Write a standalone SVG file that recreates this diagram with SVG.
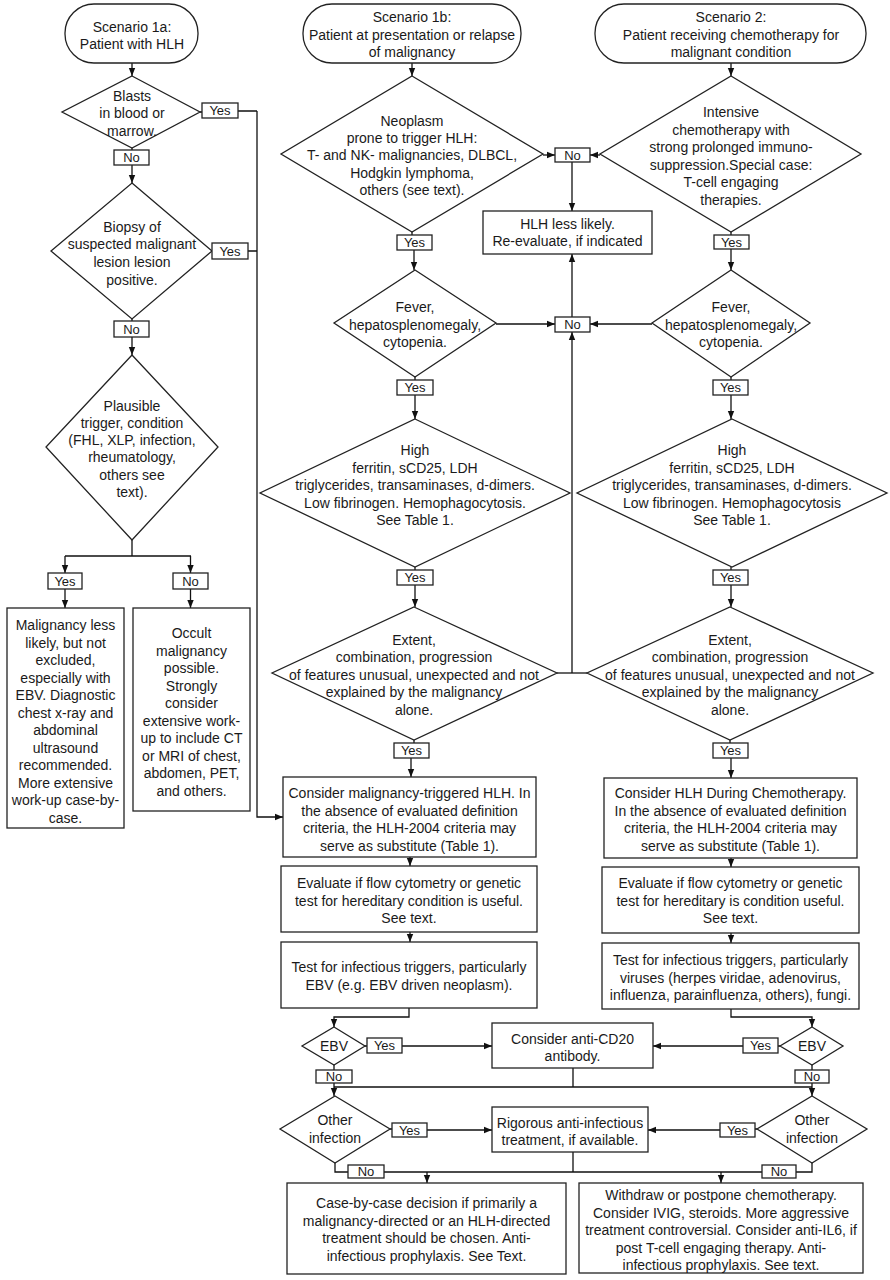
<svg xmlns="http://www.w3.org/2000/svg" width="890" height="1280" viewBox="0 0 890 1280">
<defs>
<marker id="ah" markerUnits="userSpaceOnUse" markerWidth="8" markerHeight="8" refX="8" refY="4" orient="auto">
<path d="M0,0.8 L8,4 L0,7.2 z" fill="#111"/>
</marker>
<style>
.n{fill:#fff;stroke:#222;stroke-width:1.3}
.t{font-family:"Liberation Sans",Arial,sans-serif;font-size:14px;fill:#1a1a1a;text-anchor:middle}
.s{font-size:13px}
.c{fill:none;stroke:#111;stroke-width:1.3}
.a{fill:none;stroke:#111;stroke-width:1.3;marker-end:url(#ah)}
</style>
</defs>
<rect width="890" height="1280" fill="#fff"/>

<g id="connectors">
<path class="a" d="M132,63 V76"/>
<path class="c" d="M200,112 H202 M238,111 H257 M132,148 V150"/>
<path class="a" d="M132,165 V183"/>
<path class="c" d="M212,251 H212 M248,251 H257 M132,319 V321"/>
<path class="a" d="M132,337 V355"/>
<path class="c" d="M132,540 V556 M65,556 H191"/>
<path class="a" d="M65,556 V573"/>
<path class="a" d="M190.5,556 V573"/>
<path class="a" d="M65,589 V608"/>
<path class="a" d="M190.5,589 V608"/>
<path class="a" d="M257,111 V817 H283"/>
<path class="a" d="M412,63 V76"/>
<path class="a" d="M731,63 V76"/>
<path class="a" d="M543,155 H555"/>
<path class="a" d="M600,155 H590"/>
<path class="a" d="M572,162 V211"/>
<path class="c" d="M412,232 V235 M731,232 V235"/>
<path class="a" d="M414,250 V270"/>
<path class="a" d="M731,249 V270"/>
<path class="a" d="M496,324 H555"/>
<path class="a" d="M652,324 H590"/>
<path class="a" d="M572,317 V254"/>
<path class="a" d="M572,673 V332"/>
<path class="c" d="M557,673 H587"/>
<path class="c" d="M415,377 V380 M415,567 V570 M414,740 V743 M731,377 V380 M731,567 V570 M730,740 V743"/>
<path class="a" d="M415,395 V419"/>
<path class="a" d="M415,585 V607"/>
<path class="a" d="M411,758 V777"/>
<path class="a" d="M731,395 V419"/>
<path class="a" d="M731,585 V607"/>
<path class="a" d="M731,758 V778"/>
<path class="a" d="M410,857 V866"/>
<path class="a" d="M410,932 V942"/>
<path class="a" d="M731,858 V867"/>
<path class="a" d="M731,933 V943"/>
<path class="a" d="M409,1008 V1017 H334 V1027"/>
<path class="a" d="M731,1009 V1017 H812 V1027"/>
<path class="c" d="M365,1046 H367 M780,1046 H778"/>
<path class="a" d="M402,1046 H492"/>
<path class="a" d="M743,1046 H653"/>
<path class="c" d="M334,1065 V1070 M812,1065 V1070"/>
<path class="c" d="M334,1087 H812 M573,1068 V1087"/>
<path class="a" d="M334,1083 V1096"/>
<path class="a" d="M812,1083 V1096"/>
<path class="c" d="M390,1129 H392 M757,1129 H755"/>
<path class="a" d="M427,1130 H492"/>
<path class="a" d="M720,1130 H648"/>
<path class="c" d="M335,1163 V1172 H812 V1163 M573,1152 V1172"/>
<path class="a" d="M427,1172 V1183"/>
<path class="a" d="M721,1172 V1183"/>
</g>

<g id="s1a"><rect class="n" x="65" y="4" width="133" height="59" rx="29"/>
<text class="t" x="132" y="32">Scenario 1a:</text><text class="t" x="132" y="49">Patient with HLH</text></g>

<g id="blasts"><polygon class="n" points="132,76 200,112 132,148 62,112"/>
<text class="t" x="132" y="101">Blasts</text><text class="t" x="132" y="118">in blood or</text><text class="t" x="132" y="136">marrow.</text></g>
<g id="blasts_yes"><rect class="n" x="202" y="103" width="36" height="15"/><text class="t s" x="220" y="115">Yes</text></g>
<g id="blasts_no"><rect class="n" x="114" y="150" width="35" height="15"/><text class="t s" x="131.5" y="162">No</text></g>

<g id="biopsy"><polygon class="n" points="132,183 212,251 132,319 51,251"/>
<text class="t" x="132" y="232">Biopsy of</text><text class="t" x="132" y="249">suspected malignant</text><text class="t" x="132" y="267">lesion lesion</text><text class="t" x="132" y="285">positive.</text></g>
<g id="biopsy_yes"><rect class="n" x="212" y="243" width="36" height="16"/><text class="t s" x="230" y="256">Yes</text></g>
<g id="biopsy_no"><rect class="n" x="114" y="321" width="35" height="16"/><text class="t s" x="131.5" y="334">No</text></g>

<g id="plausible"><polygon class="n" points="132,355 218,447 132,540 46,447"/>
<text class="t" x="132" y="411">Plausible</text><text class="t" x="132" y="428">trigger, condition</text><text class="t" x="132" y="445">(FHL, XLP, infection,</text><text class="t" x="132" y="462">rheumatology,</text><text class="t" x="132" y="480">others see</text><text class="t" x="132" y="497">text).</text></g>
<g id="plausible_yes"><rect class="n" x="48" y="573" width="34" height="16"/><text class="t s" x="65" y="586">Yes</text></g>
<g id="plausible_no"><rect class="n" x="173" y="573" width="35" height="16"/><text class="t s" x="190.5" y="586">No</text></g>

<g id="malignancy_less"><rect class="n" x="7" y="608" width="117" height="220"/>
<text class="t" x="65.5" y="630">Malignancy less</text><text class="t" x="65.5" y="647.5">likely, but not</text><text class="t" x="65.5" y="665">excluded,</text><text class="t" x="65.5" y="682.5">especially with</text><text class="t" x="65.5" y="700">EBV. Diagnostic</text><text class="t" x="65.5" y="717.5">chest x-ray and</text><text class="t" x="65.5" y="735">abdominal</text><text class="t" x="65.5" y="752.5">ultrasound</text><text class="t" x="65.5" y="770">recommended.</text><text class="t" x="65.5" y="787.5">More extensive</text><text class="t" x="65.5" y="805">work-up case-by-</text><text class="t" x="65.5" y="822.5">case.</text></g>

<g id="occult"><rect class="n" x="133" y="608" width="117" height="203"/>
<text class="t" x="191.5" y="638">Occult</text><text class="t" x="191.5" y="655.5">malignancy</text><text class="t" x="191.5" y="673">possible.</text><text class="t" x="191.5" y="690.5">Strongly</text><text class="t" x="191.5" y="708">consider</text><text class="t" x="191.5" y="725.5">extensive work-</text><text class="t" x="191.5" y="743">up to include CT</text><text class="t" x="191.5" y="760.5">or MRI of chest,</text><text class="t" x="191.5" y="778">abdomen, PET,</text><text class="t" x="191.5" y="795.5">and others.</text></g>

<g id="s1b"><rect class="n" x="303" y="4" width="218" height="59" rx="29"/>
<text class="t" x="412" y="22">Scenario 1b:</text><text class="t" x="412" y="40">Patient at presentation or relapse</text><text class="t" x="412" y="57">of malignancy</text></g>

<g id="neoplasm"><polygon class="n" points="412,76 543,154 412,232 281,154"/>
<text class="t" x="412" y="126">Neoplasm</text><text class="t" x="412" y="143">prone to trigger HLH:</text><text class="t" x="412" y="160">T- and NK- malignancies, DLBCL,</text><text class="t" x="412" y="178">Hodgkin lymphoma,</text><text class="t" x="412" y="195">others (see text).</text></g>
<g id="neoplasm_yes"><rect class="n" x="397" y="235" width="35" height="15"/><text class="t s" x="414.5" y="247">Yes</text></g>

<g id="fever1"><polygon class="n" points="415,270 496,323 415,377 334,323"/>
<text class="t" x="415" y="312">Fever,</text><text class="t" x="415" y="330">hepatosplenomegaly,</text><text class="t" x="415" y="347">cytopenia.</text></g>
<g id="fever1_yes"><rect class="n" x="397" y="380" width="36" height="15"/><text class="t s" x="415" y="392">Yes</text></g>

<g id="high1"><polygon class="n" points="415,419 570,493 415,567 260,493"/>
<text class="t" x="415" y="455">High</text><text class="t" x="415" y="473">ferritin, sCD25, LDH</text><text class="t" x="415" y="490">triglycerides, transaminases, d-dimers.</text><text class="t" x="415" y="508">Low fibrinogen. Hemophagocytosis.</text><text class="t" x="415" y="525">See Table 1.</text></g>
<g id="high1_yes"><rect class="n" x="397" y="570" width="36" height="15"/><text class="t s" x="415" y="582">Yes</text></g>

<g id="extent1"><polygon class="n" points="414,607 557,673 414,740 272,673"/>
<text class="t" x="414" y="645">Extent,</text><text class="t" x="414" y="662">combination, progression</text><text class="t" x="414" y="680">of features unusual, unexpected and not</text><text class="t" x="414" y="697">explained by the malignancy</text><text class="t" x="414" y="715">alone.</text></g>
<g id="extent1_yes"><rect class="n" x="394" y="743" width="35" height="15"/><text class="t s" x="411.5" y="755">Yes</text></g>

<g id="s2"><rect class="n" x="595" y="4" width="271" height="59" rx="29"/>
<text class="t" x="731" y="22">Scenario 2:</text><text class="t" x="731" y="40">Patient receiving chemotherapy for</text><text class="t" x="731" y="57">malignant condition</text></g>

<g id="intensive"><polygon class="n" points="731,76 861,154 731,232 600,154"/>
<text class="t" x="731" y="117">Intensive</text><text class="t" x="731" y="134.5">chemotherapy with</text><text class="t" x="731" y="152">strong prolonged immuno-</text><text class="t" x="731" y="169.5">suppression.Special case:</text><text class="t" x="731" y="187">T-cell engaging</text><text class="t" x="731" y="204.5">therapies.</text></g>
<g id="intensive_yes"><rect class="n" x="714" y="235" width="35" height="14"/><text class="t s" x="731.5" y="246.5">Yes</text></g>

<g id="fever2"><polygon class="n" points="731,270 810,323 731,377 652,323"/>
<text class="t" x="731" y="312">Fever,</text><text class="t" x="731" y="330">hepatosplenomegaly,</text><text class="t" x="731" y="347">cytopenia.</text></g>
<g id="fever2_yes"><rect class="n" x="713" y="380" width="35" height="15"/><text class="t s" x="730.5" y="392">Yes</text></g>

<g id="high2"><polygon class="n" points="732,419 887,493 732,567 577,493"/>
<text class="t" x="732" y="455">High</text><text class="t" x="732" y="473">ferritin, sCD25, LDH</text><text class="t" x="732" y="490">triglycerides, transaminases, d-dimers.</text><text class="t" x="732" y="508">Low fibrinogen. Hemophagocytosis</text><text class="t" x="732" y="525">See Table 1.</text></g>
<g id="high2_yes"><rect class="n" x="713" y="570" width="35" height="15"/><text class="t s" x="730.5" y="582">Yes</text></g>

<g id="extent2"><polygon class="n" points="730,607 873,673 730,740 587,673"/>
<text class="t" x="730" y="645">Extent,</text><text class="t" x="730" y="662">combination, progression</text><text class="t" x="730" y="680">of features unusual, unexpected and not</text><text class="t" x="730" y="697">explained by the malignancy</text><text class="t" x="730" y="715">alone.</text></g>
<g id="extent2_yes"><rect class="n" x="713" y="743" width="35" height="15"/><text class="t s" x="730.5" y="755">Yes</text></g>

<g id="no_top"><rect class="n" x="555" y="148" width="35" height="14"/><text class="t s" x="572.5" y="159.5">No</text></g>
<g id="hlh_less"><rect class="n" x="483" y="211" width="169" height="43"/>
<text class="t" x="567.5" y="229">HLH less likely.</text><text class="t" x="567.5" y="246">Re-evaluate, if indicated</text></g>
<g id="no_mid"><rect class="n" x="555" y="317" width="35" height="15"/><text class="t s" x="572.5" y="329">No</text></g>

<g id="consider_mal"><rect class="n" x="283" y="777" width="253" height="80"/>
<text class="t" x="409.5" y="798">Consider malignancy-triggered HLH. In</text><text class="t" x="409.5" y="815.5">the absence of evaluated definition</text><text class="t" x="409.5" y="833">criteria, the HLH-2004 criteria may</text><text class="t" x="409.5" y="850.5">serve as substitute (Table 1).</text></g>
<g id="evaluate1"><rect class="n" x="281" y="866" width="256" height="66"/>
<text class="t" x="409" y="888">Evaluate if flow cytometry or genetic</text><text class="t" x="409" y="905.5">test for hereditary condition is useful.</text><text class="t" x="409" y="923">See text.</text></g>
<g id="test1"><rect class="n" x="281" y="942" width="256" height="66"/>
<text class="t" x="409" y="972">Test for infectious triggers, particularly</text><text class="t" x="409" y="990">EBV (e.g. EBV driven neoplasm).</text></g>

<g id="consider_chemo"><rect class="n" x="604" y="778" width="253" height="80"/>
<text class="t" x="730.5" y="798">Consider HLH During Chemotherapy.</text><text class="t" x="730.5" y="815.5">In the absence of evaluated definition</text><text class="t" x="730.5" y="833">criteria, the HLH-2004 criteria may</text><text class="t" x="730.5" y="850.5">serve as substitute (Table 1).</text></g>
<g id="evaluate2"><rect class="n" x="602" y="867" width="257" height="66"/>
<text class="t" x="730.5" y="888">Evaluate if flow cytometry or genetic</text><text class="t" x="730.5" y="905.5">test for hereditary is condition useful.</text><text class="t" x="730.5" y="923">See text.</text></g>
<g id="test2"><rect class="n" x="602" y="943" width="257" height="66"/>
<text class="t" x="730.5" y="965">Test for infectious triggers, particularly</text><text class="t" x="730.5" y="982.5">viruses (herpes viridae, adenovirus,</text><text class="t" x="730.5" y="1000">influenza, parainfluenza, others), fungi.</text></g>

<g id="ebv1"><polygon class="n" points="334,1027 365,1046 334,1065 302,1046"/><text class="t" x="334" y="1051">EBV</text></g>
<g id="ebv1_yes"><rect class="n" x="367" y="1038" width="35" height="15"/><text class="t s" x="384.5" y="1050">Yes</text></g>
<g id="ebv1_no"><rect class="n" x="316" y="1070" width="36" height="13"/><text class="t s" x="334" y="1081">No</text></g>
<g id="anti_cd20"><rect class="n" x="492" y="1023" width="161" height="45"/>
<text class="t" x="572.5" y="1044">Consider anti-CD20</text><text class="t" x="572.5" y="1061">antibody.</text></g>
<g id="ebv2"><polygon class="n" points="812,1027 843,1046 812,1065 780,1046"/><text class="t" x="812" y="1051">EBV</text></g>
<g id="ebv2_yes"><rect class="n" x="743" y="1038" width="35" height="15"/><text class="t s" x="760.5" y="1050">Yes</text></g>
<g id="ebv2_no"><rect class="n" x="795" y="1070" width="34" height="13"/><text class="t s" x="812" y="1081">No</text></g>

<g id="other1"><polygon class="n" points="335,1096 390,1129 335,1163 280,1129"/>
<text class="t" x="335" y="1125">Other</text><text class="t" x="335" y="1143">infection</text></g>
<g id="other1_yes"><rect class="n" x="392" y="1123" width="35" height="14"/><text class="t s" x="409.5" y="1134.5">Yes</text></g>
<g id="rigorous"><rect class="n" x="492" y="1107" width="156" height="45"/>
<text class="t" x="570" y="1128">Rigorous anti-infectious</text><text class="t" x="570" y="1145">treatment, if available.</text></g>
<g id="other2"><polygon class="n" points="812,1096 867,1129 812,1163 757,1129"/>
<text class="t" x="812" y="1125">Other</text><text class="t" x="812" y="1143">infection</text></g>
<g id="other2_yes"><rect class="n" x="720" y="1123" width="35" height="14"/><text class="t s" x="737.5" y="1134.5">Yes</text></g>
<g id="other1_no"><rect class="n" x="348" y="1165" width="36" height="13"/><text class="t s" x="366" y="1176">No</text></g>
<g id="other2_no"><rect class="n" x="762" y="1165" width="34" height="13"/><text class="t s" x="779" y="1176">No</text></g>

<g id="case_by_case"><rect class="n" x="287" y="1183" width="279" height="91"/>
<text class="t" x="426.5" y="1208">Case-by-case decision if primarily a</text><text class="t" x="426.5" y="1226">malignancy-directed or an HLH-directed</text><text class="t" x="426.5" y="1243">treatment should be chosen. Anti-</text><text class="t" x="426.5" y="1261">infectious prophylaxis. See Text.</text></g>
<g id="withdraw"><rect class="n" x="579" y="1183" width="284" height="90"/>
<text class="t" x="721" y="1200">Withdraw or postpone chemotherapy.</text><text class="t" x="721" y="1218">Consider IVIG, steroids. More aggressive</text><text class="t" x="721" y="1235">treatment controversial. Consider anti-IL6, if</text><text class="t" x="721" y="1253">post T-cell engaging therapy. Anti-</text><text class="t" x="721" y="1270">infectious prophylaxis. See text.</text></g>
</svg>
